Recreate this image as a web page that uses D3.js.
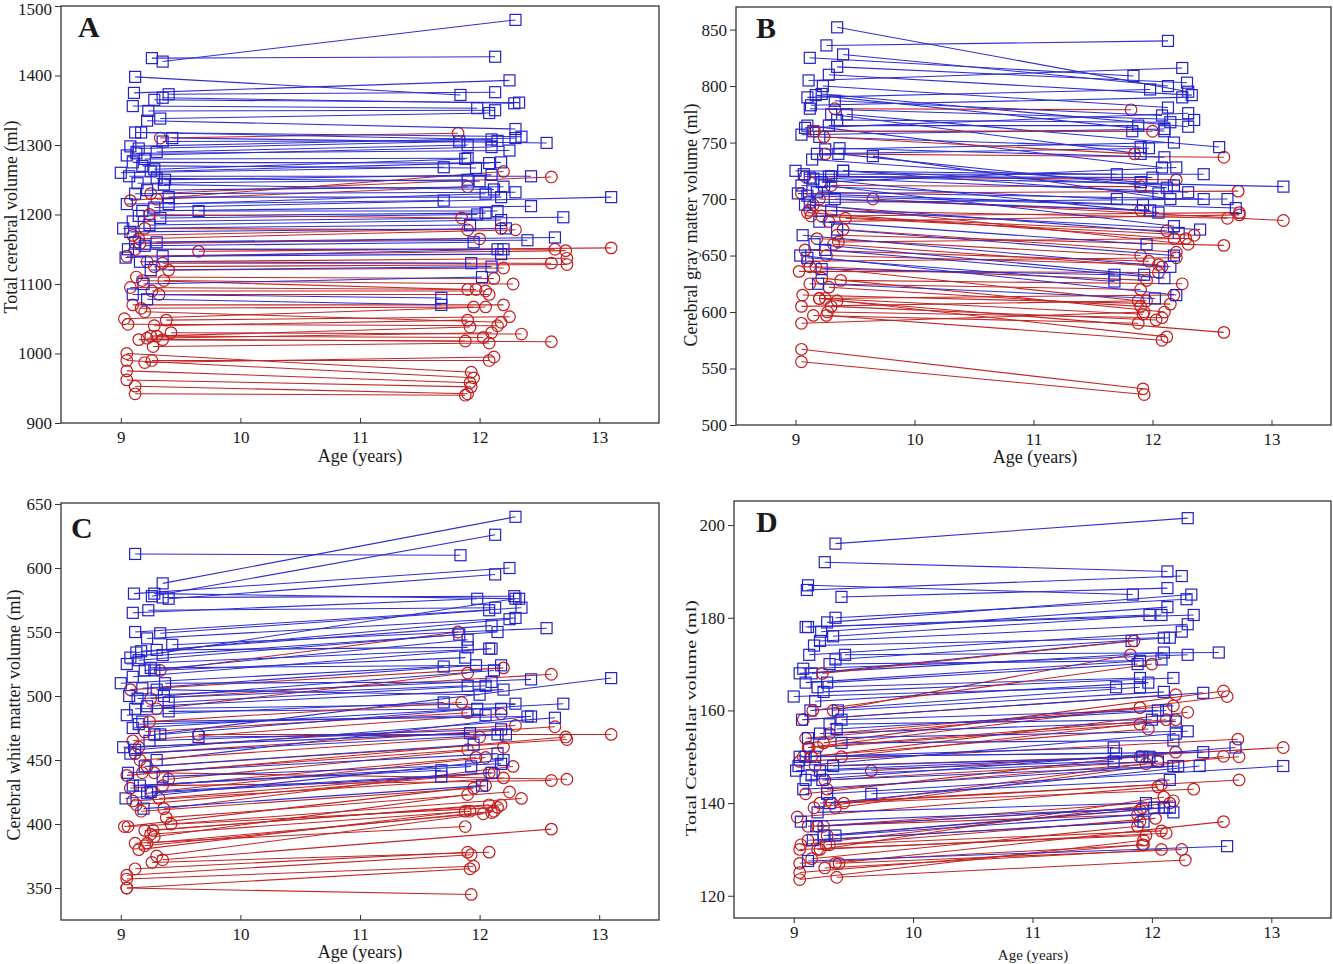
<!DOCTYPE html>
<html lang="en">
<head>
<meta charset="UTF-8">
<title>Brain volumes by age</title>
<style>
  body { margin: 0; background: #fff; }
  svg text { font-family: "Liberation Serif", "Times New Roman", serif; fill: #1a1a1a; }
</style>
</head>
<body>
<div id="chart"></div>
<script src="https://d3js.org/d3.v7.min.js"></script>
<script>
// ---- ages at the two scans (boys = blue squares, girls = red circles)
var ageStartM = [9.35,9.26,9.11,9.12,9.40,9.35,9.28,9.10,9.23,9.33,
  9.22,9.12,9.43,9.17,9.35,9.08,9.15,9.30,9.05,9.20,
  9.10,9.25,9.00,9.18,9.37,9.07,9.14,9.30,9.22,9.12,
  9.40,9.28,9.05,9.18,9.65,9.10,9.33,9.15,9.24,9.02,
  9.08,9.30,9.12,9.20,9.06,9.35,9.16,9.25,9.10,9.22,
  9.40,9.28,9.13,9.36,9.19,9.04];
var ageEndM = [12.30,12.13,12.25,11.84,12.13,12.29,12.33,11.98,12.13,12.08,
  12.30,12.35,12.56,12.10,12.15,12.30,11.83,11.90,12.10,11.90,
  12.08,12.18,11.70,11.97,12.10,12.43,11.90,12.00,12.20,12.30,
  12.18,13.10,11.70,12.43,12.15,12.70,11.98,12.05,12.18,11.92,
  12.22,12.40,12.63,11.95,12.15,12.18,11.93,12.10,11.68,11.68,
  12.05,11.88,12.25,12.12,12.02,12.20];
var ageStartF = [9.33,9.08,9.25,9.30,9.20,9.10,9.15,9.65,9.12,9.05,
  9.22,9.28,9.40,9.35,9.18,9.08,9.26,9.32,9.10,9.03,
  9.17,9.38,9.20,9.06,9.28,9.25,9.22,9.30,9.15,9.35,
  9.27,9.20,9.26,9.05,9.05,9.05,9.05,9.12,9.12,9.13,
  9.36,9.16,9.24,9.42];
var ageEndF = [11.82,12.20,12.60,11.90,11.90,12.18,12.30,13.10,12.63,12.72,
  12.73,12.73,12.20,12.60,11.90,11.97,12.05,12.08,12.20,12.05,
  11.95,12.25,12.18,12.15,11.90,11.92,12.10,12.03,11.88,12.60,
  12.08,12.12,12.08,11.93,11.95,11.92,11.93,11.90,11.88,12.12,
  12.28,12.00,11.85,12.35];

// ---- A: total cerebral volume (ml)
var tcvStartM = [1420,1425,1375,1398,1373,1368,1365,1356,1349,1338,
  1335,1318,1310,1318,1305,1298,1295,1290,1285,1280,
  1275,1262,1260,1270,1250,1255,1245,1252,1235,1230,
  1225,1210,1215,1205,1205,1190,1195,1198,1185,1180,
  1175,1160,1160,1155,1150,1140,1132,1120,1085,1078,
  1215,1265,1288,1243,1100,1138];
var tcvEndM = [1480,1427,1393,1372,1376,1360,1361,1353,1350,1346,
  1323,1312,1303,1308,1306,1310,1305,1300,1297,1281,
  1274,1275,1268,1267,1257,1255,1250,1248,1240,1232,
  1225,1225,1220,1212,1205,1196,1200,1202,1192,1185,
  1180,1163,1167,1160,1150,1143,1130,1125,1080,1070,
  1230,1280,1292,1236,1110,1150];
var tcvStartF = [1310,1220,1230,1222,1180,1170,1165,1147,1150,1140,
  1132,1125,1120,1130,1105,1095,1090,1085,1070,1050,
  1065,1048,1060,1042,1040,1025,1022,1025,1020,1020,
  1010,987,990,1000,990,975,962,953,942,1110,
  1105,1158,1200,1030];
var tcvEndF = [1317,1262,1254,1240,1178,1180,1178,1152,1150,1148,
  1137,1128,1123,1130,1092,1092,1090,1085,1070,1067,
  1067,1053,1045,1040,1048,1038,1030,1023,1018,1017,
  1015,995,990,973,965,958,952,942,940,1108,
  1100,1165,1195,1028];

// ---- B: cerebral gray matter volume (ml)
var gmStartM = [852,836,805,825,828,817,810,790,800,787,
  793,780,775,792,770,763,760,775,757,755,
  765,744,725,740,745,722,735,720,715,719,
  725,720,712,706,738,703,700,718,712,705,
  695,690,697,680,668,673,660,655,648,638,
  725,765,783,740,625,650];
var gmEndM = [795,840,816,809,800,803,792,797,781,774,
  764,770,746,760,768,776,760,740,762,746,
  728,750,722,745,737,722,715,719,728,706,
  712,711,700,700,700,692,690,688,676,695,
  670,673,700,660,640,650,633,630,627,633,
  705,765,790,710,612,615];
var gmStartF = [780,720,740,712,700,688,695,700,690,705,
  685,680,673,668,665,655,650,660,645,636,
  640,628,612,615,622,612,630,605,597,610,
  600,612,597,590,605,567,556,625,640,685,
  662,760,755,683];
var gmEndF = [779,717,737,711,690,665,660,681,683,707,
  688,686,653,659,650,645,642,640,648,635,
  628,625,615,607,605,598,600,593,590,582,
  595,578,575,600,610,532,527,620,610,672,
  665,760,740,668];

// ---- C: cerebral white matter volume (ml)
var wmStartM = [588,578,580,611,576,577,580,565,567,549,
  545,550,540,535,532,530,528,536,525,520,
  515,522,510,506,510,500,498,505,492,490,
  488,470,485,480,468,475,470,478,465,460,
  455,450,458,445,440,437,430,425,430,424,
  495,520,534,500,412,420];
var wmEndM = [640,626,600,610,595,578,576,576,569,567,
  561,569,553,555,550,576,548,538,537,544,
  537,524,523,524,511,513,508,501,505,494,
  490,514,495,484,470,494,490,485,474,471,
  470,484,483,462,455,447,445,440,442,437,
  508,530,560,520,430,450];
var wmStartF = [520,505,498,490,472,465,460,470,455,438,
  445,440,435,430,440,428,425,420,418,398,
  410,405,395,398,390,392,385,375,380,372,
  395,383,370,360,357,350,350,365,385,415,
  412,450,480,400];
var wmEndF = [550,522,517,518,487,486,477,470,476,468,
  466,435,460,434,458,452,452,440,436,430,
  428,425,415,413,423,410,409,408,410,396,
  415,410,378,376,367,365,345,378,398,440,
  445,468,495,420];

// ---- D: total cerebellar volume (ml)
var cbStartM = [196,192,186,187,184.5,180,179,178,177,176,
  175,178,172,174,171,169,168,170,168,165,
  166,164,163,162,160,158,160,157,155,154,
  153,142,150,150,142,145,148,146,145,147,
  143,140,127.5,138,136,133,132,133,150,147,
  158,166,172,156,135,148];
var cbEndM = [201.5,190,189,185,186.4,184,185,180.6,182.3,180.6,
  178.6,180.6,172.5,175.7,175.7,172,175,170.7,172.5,167,
  171,167,165,166,164,163.8,165,158,157.6,155.5,
  153.5,148,150.7,151,145,152,150,149,148,150,
  148,148,130.7,140,139,138,136,139,152,149,
  160,170,177,160,139,155];
var cbStartF = [160,158,153,155,152,154,150,147,152,149,
  140,143,150,127,148,150,145,140,142,137,
  139,127,135,131,133,135,130,131,128,139,
  131,130,126,127,130,125,123.5,132,135,152,
  124,160,168,140];
var cbEndF = [172,163.4,164.2,160.6,157,161,159.6,152,163,153.8,
  145,150,158,136,150,156,149,144,151,143.5,
  148.5,130,140.5,140,138.5,139,141.3,136.7,135,150.1,
  134,133.5,130,131,133,131,132,136,137.5,158,
  127.7,170,175,143];

// ---- tick labels
var xTicks = [9, 10, 11, 12, 13];
var yTicksA = [900, 1000, 1100, 1200, 1300, 1400, 1500];
var yTicksB = [500, 550, 600, 650, 700, 750, 800, 850];
var yTicksC = [350, 400, 450, 500, 550, 600, 650];
var yTicksD = [120, 140, 160, 180, 200];

var width = 1333, height = 964;
var blue = "#2222c8", red = "#c41c1c";
var blueLine = "#2e2ed0", redLine = "#c22626";

var panels = [
  { letter: "A", left: 61, right: 659, top: 6, bottom: 423, yDomain: [900, 1500], yTicks: yTicksA,
    ylabel: "Total cerebral volume (ml)", ylx: 17, yly: 217, ylsize: 18,
    xlx: 360, xly: 462, xlsize: 18, tickIn: true, tickPad: 8, letterX: 78, letterY: 37,
    sM: tcvStartM, eM: tcvEndM, sF: tcvStartF, eF: tcvEndF },
  { letter: "B", left: 736, right: 1331, top: 7, bottom: 425, yDomain: [500, 870], yTicks: yTicksB,
    ylabel: "Cerebral gray matter volume (ml)", ylx: 697, yly: 225, ylsize: 18,
    xlx: 1035, xly: 463, xlsize: 18, tickIn: true, tickPad: 8, letterX: 756, letterY: 38,
    sM: gmStartM, eM: gmEndM, sF: gmStartF, eF: gmEndF },
  { letter: "C", left: 61, right: 659, top: 503, bottom: 920, yDomain: [325, 650.8], yTicks: yTicksC,
    ylabel: "Cerebral white matter volume (ml)", ylx: 20, yly: 715, ylsize: 18,
    xlx: 360, xly: 958, xlsize: 18, tickIn: true, tickPad: 8, letterX: 71, letterY: 538,
    sM: wmStartM, eM: wmEndM, sF: wmStartF, eF: wmEndF },
  { letter: "D", left: 734, right: 1331, top: 501, bottom: 918, yDomain: [115.2, 205.2], yTicks: yTicksD,
    ylabel: "Total Cerebellar volume (ml)", ylx: 696, yly: 718, ylsize: 14, ylLen: 236,
    xlx: 1033, xly: 960, xlsize: 15, tickIn: false, tickPad: 3, letterX: 756, letterY: 532,
    sM: cbStartM, eM: cbEndM, sF: cbStartF, eF: cbEndF }
];

var svg = d3.select("#chart").append("svg")
    .attr("width", width)
    .attr("height", height);

// draw order: a boy, then a girl, and so on
var order = [];
for (var i = 0; i < ageStartM.length; i++) {
  order.push({ sex: "M", i: i });
  if (i < ageStartF.length) order.push({ sex: "F", i: i });
}

panels.forEach(function(p) {
  var x = d3.scaleLinear().domain([8.5, 13.5]).range([p.left, p.right]);
  var y = d3.scaleLinear().domain(p.yDomain).range([p.bottom, p.top]);
  var g = svg.append("g");

  var subjects = order.map(function(o) {
    var m = o.sex === "M";
    return {
      sex: o.sex,
      a1: m ? ageStartM[o.i] : ageStartF[o.i],
      a2: m ? ageEndM[o.i] : ageEndF[o.i],
      v1: m ? p.sM[o.i] : p.sF[o.i],
      v2: m ? p.eM[o.i] : p.eF[o.i]
    };
  });

  var plot = g.append("g");
  var subj = plot.selectAll("g.subj")
    .data(subjects)
    .enter().append("g");

  subj.append("line")
      .attr("x1", function(d) { return x(d.a1); })
      .attr("y1", function(d) { return y(d.v1); })
      .attr("x2", function(d) { return x(d.a2); })
      .attr("y2", function(d) { return y(d.v2); })
      .attr("stroke", function(d) { return d.sex === "M" ? blueLine : redLine; })
      .attr("stroke-width", 1.05);

  [["a1", "v1"], ["a2", "v2"]].forEach(function(k) {
    subj.filter(function(d) { return d.sex === "M"; })
      .append("rect")
        .attr("x", function(d) { return x(d[k[0]]) - 5.5; })
        .attr("y", function(d) { return y(d[k[1]]) - 5.5; })
        .attr("width", 11)
        .attr("height", 11)
        .attr("fill", "none")
        .attr("stroke", blue)
        .attr("stroke-width", 1.2);
    subj.filter(function(d) { return d.sex === "F"; })
      .append("circle")
        .attr("cx", function(d) { return x(d[k[0]]); })
        .attr("cy", function(d) { return y(d[k[1]]); })
        .attr("r", 5.8)
        .attr("fill", "none")
        .attr("stroke", red)
        .attr("stroke-width", 1.2);
  });

  // frame
  g.append("rect")
    .attr("x", p.left).attr("y", p.top)
    .attr("width", p.right - p.left).attr("height", p.bottom - p.top)
    .attr("fill", "none").attr("stroke", "#333").attr("stroke-width", 1.3);

  // axes
  var xAxis = d3.axisBottom(x).tickValues(xTicks).tickFormat(d3.format("d"))
      .tickSize(p.tickIn ? -5 : 5)
      .tickPadding(p.tickPad);
  var gx = g.append("g")
    .attr("transform", "translate(0," + p.bottom + ")")
    .call(xAxis);
  var yAxis = d3.axisLeft(y).tickValues(p.yTicks).tickFormat(d3.format("d"))
      .tickSize(6).tickPadding(3);
  var gy = g.append("g")
    .attr("transform", "translate(" + p.left + ",0)")
    .call(yAxis);
  [gx, gy].forEach(function(a) {
    a.select(".domain").remove();
    a.selectAll(".tick line").attr("stroke", "#333");
    a.selectAll(".tick text")
      .style("font-family", '"Liberation Serif", serif')
      .style("font-size", "17px")
      .attr("fill", "#1a1a1a");
  });
  // keep a label sitting on the top edge of the page inside it
  gy.selectAll(".tick text").filter(function(d) { return y(d) < 10; }).attr("dy", "0.5em");

  // labels
  g.append("text")
    .attr("x", p.letterX).attr("y", p.letterY)
    .style("font-size", "30px").style("font-weight", "bold")
    .text(p.letter);

  g.append("text")
    .attr("x", p.xlx).attr("y", p.xly)
    .attr("text-anchor", "middle")
    .style("font-size", p.xlsize + "px")
    .text("Age (years)");

  var yl = g.append("text")
    .attr("transform", "translate(" + p.ylx + "," + p.yly + ") rotate(-90)")
    .attr("text-anchor", "middle")
    .style("font-size", p.ylsize + "px")
    .text(p.ylabel);
  if (p.ylLen) yl.attr("textLength", p.ylLen).attr("lengthAdjust", "spacingAndGlyphs");
});
</script>
</body>
</html>
